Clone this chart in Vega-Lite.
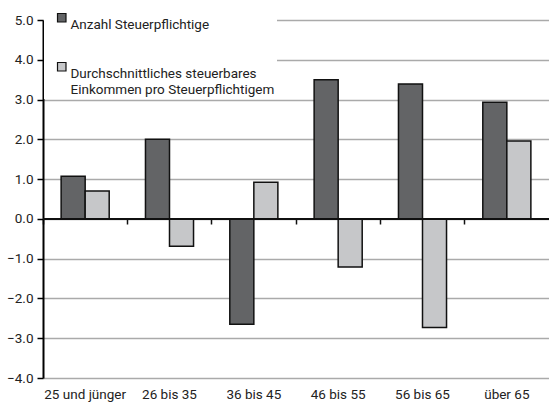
{
  "$schema": "https://vega.github.io/schema/vega-lite/v6.json",
  "width": 506,
  "height": 358,
  "autosize": "none",
  "padding": {"left": 43, "top": 20, "right": 0, "bottom": 32},
  "config": {
    "view": {"stroke": null},
    "font": "Roboto",
    "style": {"guide-label": {"lineHeight": 16}},
    "axis": {"labelFont": "Roboto", "labelFontSize": 13.5, "labelColor": "#222", "domainColor": "#000", "tickColor": "#000"},
    "axisY": {"labelOverlap": false, "labelFlush": false, "labelColor": "#222", "domainColor": "#000", "domainWidth": 2, "tickColor": "#000", "tickWidth": 1.5, "tickSize": 6, "labelPadding": 4, "grid": true, "gridColor": "#aaaaaa", "gridWidth": 1.5, "tickCount": 10},
    "legend": {"labelFont": "Roboto", "labelFontSize": 13.5, "labelColor": "#222"}
  },
  "data": {
    "values": [
      {"gruppe": "25 und jünger", "serie": "Anzahl Steuerpflichtige", "wert": 1.07},
      {"gruppe": "25 und jünger", "serie": "Durchschnittliches steuerbares Einkommen pro Steuerpflichtigem", "wert": 0.70},
      {"gruppe": "26 bis 35", "serie": "Anzahl Steuerpflichtige", "wert": 2.0},
      {"gruppe": "26 bis 35", "serie": "Durchschnittliches steuerbares Einkommen pro Steuerpflichtigem", "wert": -0.69},
      {"gruppe": "36 bis 45", "serie": "Anzahl Steuerpflichtige", "wert": -2.65},
      {"gruppe": "36 bis 45", "serie": "Durchschnittliches steuerbares Einkommen pro Steuerpflichtigem", "wert": 0.92},
      {"gruppe": "46 bis 55", "serie": "Anzahl Steuerpflichtige", "wert": 3.5},
      {"gruppe": "46 bis 55", "serie": "Durchschnittliches steuerbares Einkommen pro Steuerpflichtigem", "wert": -1.21},
      {"gruppe": "56 bis 65", "serie": "Anzahl Steuerpflichtige", "wert": 3.39},
      {"gruppe": "56 bis 65", "serie": "Durchschnittliches steuerbares Einkommen pro Steuerpflichtigem", "wert": -2.73},
      {"gruppe": "über 65", "serie": "Anzahl Steuerpflichtige", "wert": 2.93},
      {"gruppe": "über 65", "serie": "Durchschnittliches steuerbares Einkommen pro Steuerpflichtigem", "wert": 1.96}
    ]
  },
  "layer": [
    {
      "mark": {"type": "bar", "stroke": "#111", "strokeWidth": 1.5},
      "encoding": {
        "x": {
          "field": "gruppe", "type": "nominal", "sort": null,
          "scale": {"paddingInner": 0.43, "paddingOuter": 0.215},
          "axis": {"title": null, "orient": "bottom", "domain": false, "ticks": false, "labelAngle": 0, "labelPadding": 9, "grid": false}
        },
        "xOffset": {
          "field": "serie", "type": "nominal",
          "sort": ["Anzahl Steuerpflichtige", "Durchschnittliches steuerbares Einkommen pro Steuerpflichtigem"],
          "scale": {"paddingInner": 0, "paddingOuter": 0}
        },
        "y": {
          "field": "wert", "type": "quantitative",
          "scale": {"domain": [-4, 5], "nice": false, "zero": false},
          "axis": {"title": null, "values": [-4, -3, -2, -1, 0, 1, 2, 3, 4, 5], "format": ".1f"}
        },
        "color": {
          "field": "serie", "type": "nominal",
          "sort": ["Anzahl Steuerpflichtige", "Durchschnittliches steuerbares Einkommen pro Steuerpflichtigem"],
          "scale": {"range": ["#636466", "#c6c7c9"]},
          "legend": {
            "title": null, "orient": "none", "legendX": 1, "legendY": -11,
            "fillColor": "white", "padding": 2, "symbolOffset": 9,
            "symbolType": "square", "symbolSize": 72, "symbolStrokeColor": "#111", "symbolStrokeWidth": 1.2, "symbolOpacity": 1,
            "labelOffset": 2, "labelLimit": 300, "rowPadding": 28, "labelBaseline": "top",
            "labelExpr": "datum.label == 'Anzahl Steuerpflichtige' ? datum.label : ['Durchschnittliches steuerbares', 'Einkommen pro Steuerpflichtigem']",
            "columns": 1
          }
        }
      }
    },
    {
      "mark": {"type": "rule", "color": "#111", "strokeWidth": 1.5},
      "encoding": {
        "y": {"datum": 0, "type": "quantitative"}
      }
    },
    {
      "mark": {"type": "point", "opacity": 0},
      "encoding": {
        "x": {
          "field": "gruppe", "type": "nominal", "sort": null,
          "axis": {"title": null, "orient": "bottom", "offset": -159, "labels": false, "domain": false, "ticks": true, "bandPosition": -0.377, "tickColor": "#111", "tickWidth": 1.5, "tickSize": 5, "grid": false}
        }
      }
    }
  ],
  "resolve": {"axis": {"x": "independent"}}
}
